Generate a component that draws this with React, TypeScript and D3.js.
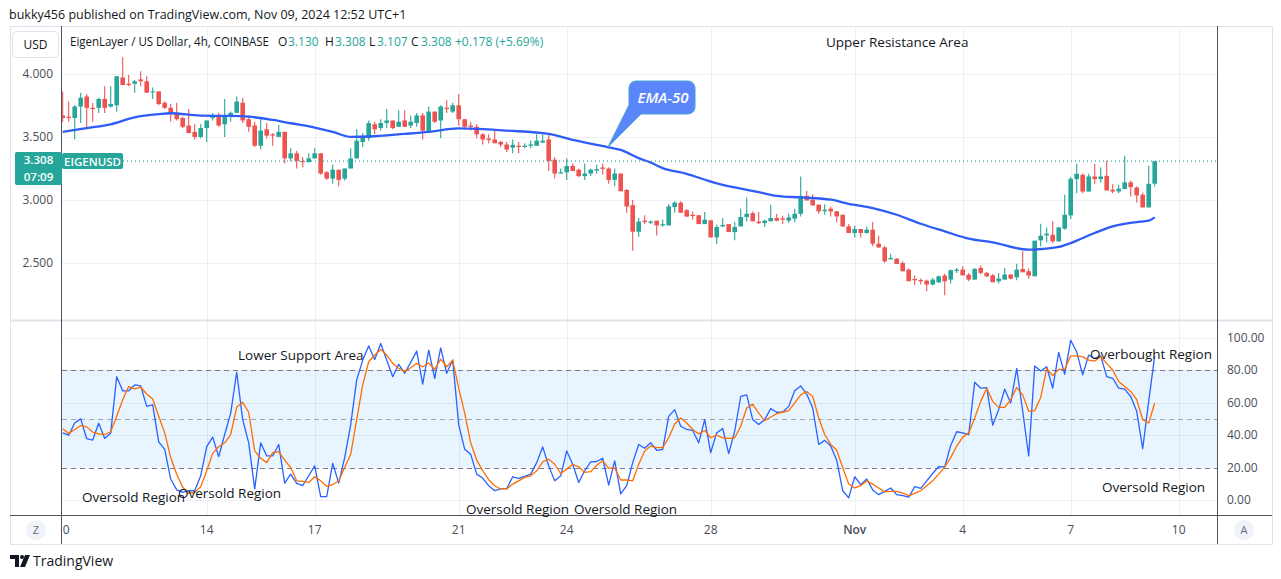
import React from "react";
import * as d3 from "d3";

const publishedText = "bukky456 published on TradingView.com, Nov 09, 2024 12:52 UTC+1";
const symbolTitle = "EigenLayer / US Dollar, 4h, COINBASE";
const ohlcLabels: [string, string, number, number][] = [
  ["O", "3.130", 278, 288],
  ["H", "3.308", 325, 335],
  ["L", "3.107", 369, 377],
  ["C", "3.308", 411, 421],
];
const changeLabel = "+0.178 (+5.69%)";
const lastPrice = 3.308;
const lastPriceText = "3.308";
const countdownText = "07:09";
const tickerText = "EIGENUSD";

const priceTicks = [4.0, 3.5, 3.0, 2.5];
const stochGridTicks = [100, 80, 60, 40, 20, 0];
const bandLevels = [80, 50, 20];
const dateTicks: [number, number, string][] = [
  [9, 10, "10"], [9, 14, "14"], [9, 17, "17"], [9, 21, "21"], [9, 24, "24"],
  [9, 28, "28"], [10, 1, "Nov"], [10, 4, "4"], [10, 7, "7"], [10, 10, "10"],
];

// 4h candles from Oct 10 2024: [open, high, low, close]
const candles: [number, number, number, number][] = [
  [3.67, 3.86, 3.62, 3.65], [3.66, 3.78, 3.62, 3.65], [3.65, 3.75, 3.48, 3.74], [3.74, 3.85, 3.61, 3.81], [3.82, 3.84, 3.56, 3.73],
  [3.73, 3.77, 3.62, 3.72], [3.73, 3.81, 3.69, 3.8], [3.8, 3.9, 3.69, 3.73], [3.74, 3.9, 3.73, 3.76], [3.75, 3.98, 3.7, 3.98],
  [3.97, 4.13, 3.91, 3.91], [3.92, 3.99, 3.9, 3.91], [3.92, 3.95, 3.85, 3.94], [3.955, 4.02, 3.9, 3.94], [3.94, 3.98, 3.85, 3.85],
  [3.855, 3.89, 3.8, 3.86], [3.86, 3.86, 3.75, 3.76], [3.77, 3.78, 3.72, 3.73], [3.73, 3.76, 3.62, 3.68], [3.69, 3.77, 3.63, 3.64],
  [3.65, 3.66, 3.57, 3.58], [3.59, 3.72, 3.53, 3.53], [3.54, 3.6, 3.48, 3.5], [3.5, 3.6, 3.49, 3.57], [3.57, 3.63, 3.46, 3.63],
  [3.65, 3.69, 3.63, 3.67], [3.67, 3.69, 3.58, 3.59], [3.6, 3.8, 3.5, 3.67], [3.67, 3.7, 3.62, 3.69], [3.69, 3.82, 3.69, 3.78],
  [3.77, 3.81, 3.61, 3.63], [3.64, 3.67, 3.54, 3.58], [3.59, 3.62, 3.42, 3.43], [3.43, 3.66, 3.4, 3.55], [3.56, 3.61, 3.49, 3.51],
  [3.52, 3.53, 3.43, 3.51], [3.5, 3.595, 3.5, 3.54], [3.54, 3.54, 3.29, 3.33], [3.33, 3.41, 3.31, 3.37], [3.37, 3.39, 3.25, 3.31],
  [3.31, 3.34, 3.26, 3.3], [3.3, 3.37, 3.3, 3.33], [3.33, 3.41, 3.33, 3.37], [3.37, 3.37, 3.2, 3.21], [3.22, 3.23, 3.16, 3.17],
  [3.17, 3.28, 3.13, 3.24], [3.24, 3.24, 3.11, 3.16], [3.17, 3.25, 3.155, 3.25], [3.25, 3.41, 3.25, 3.33], [3.33, 3.56, 3.33, 3.47],
  [3.46, 3.53, 3.42, 3.5], [3.49, 3.63, 3.47, 3.61], [3.6, 3.62, 3.52, 3.56], [3.57, 3.64, 3.55, 3.61], [3.61, 3.72, 3.57, 3.63],
  [3.63, 3.63, 3.56, 3.57], [3.58, 3.71, 3.58, 3.62], [3.63, 3.71, 3.58, 3.58], [3.59, 3.67, 3.57, 3.62], [3.61, 3.69, 3.58, 3.67],
  [3.67, 3.69, 3.48, 3.55], [3.54, 3.74, 3.54, 3.7], [3.7, 3.7, 3.61, 3.62], [3.63, 3.75, 3.49, 3.74], [3.73, 3.79, 3.69, 3.72],
  [3.7, 3.77, 3.69, 3.75], [3.75, 3.84, 3.59, 3.64], [3.64, 3.64, 3.56, 3.58], [3.59, 3.62, 3.55, 3.58], [3.58, 3.6, 3.49, 3.52],
  [3.52, 3.53, 3.44, 3.48], [3.487, 3.52, 3.45, 3.476], [3.48, 3.55, 3.45, 3.45], [3.46, 3.47, 3.42, 3.44], [3.44, 3.46, 3.38, 3.4],
  [3.415, 3.48, 3.37, 3.437], [3.43, 3.46, 3.37, 3.42], [3.42, 3.45, 3.41, 3.43], [3.43, 3.47, 3.41, 3.44], [3.43, 3.52, 3.43, 3.47],
  [3.455, 3.52, 3.455, 3.47], [3.48, 3.53, 3.23, 3.31], [3.32, 3.34, 3.17, 3.21], [3.21, 3.25, 3.21, 3.22], [3.22, 3.33, 3.16, 3.27],
  [3.27, 3.29, 3.23, 3.23], [3.24, 3.25, 3.18, 3.19], [3.19, 3.29, 3.16, 3.21], [3.21, 3.25, 3.19, 3.24], [3.234, 3.28, 3.21, 3.245],
  [3.258, 3.29, 3.2, 3.247], [3.25, 3.26, 3.13, 3.16], [3.16, 3.25, 3.11, 3.21], [3.21, 3.21, 3.07, 3.07], [3.08, 3.087, 2.9, 2.95],
  [2.96, 3.0, 2.6, 2.75], [2.75, 2.86, 2.71, 2.83], [2.837, 2.88, 2.81, 2.826], [2.82, 2.84, 2.81, 2.83], [2.837, 2.837, 2.72, 2.8],
  [2.8, 2.845, 2.79, 2.81], [2.8, 2.97, 2.8, 2.95], [2.945, 2.99, 2.9, 2.98], [2.98, 2.99, 2.9, 2.9], [2.92, 2.93, 2.866, 2.87],
  [2.884, 2.91, 2.845, 2.874], [2.88, 2.884, 2.81, 2.81], [2.81, 2.905, 2.81, 2.845], [2.84, 2.84, 2.705, 2.705], [2.705, 2.805, 2.653, 2.787],
  [2.792, 2.858, 2.787, 2.803], [2.81, 2.81, 2.747, 2.747], [2.747, 2.826, 2.682, 2.787], [2.792, 2.932, 2.792, 2.866], [2.866, 3.02, 2.832, 2.892],
  [2.897, 2.91, 2.832, 2.832], [2.829, 2.905, 2.81, 2.818], [2.818, 2.845, 2.787, 2.837], [2.832, 2.963, 2.832, 2.858], [2.858, 2.89, 2.832, 2.837],
  [2.855, 2.876, 2.81, 2.845], [2.837, 2.892, 2.818, 2.863], [2.853, 2.932, 2.824, 2.892], [2.892, 3.187, 2.871, 3.034], [3.034, 3.074, 2.997, 2.997],
  [3.003, 3.047, 2.958, 2.958], [2.963, 2.968, 2.892, 2.911], [2.913, 2.968, 2.884, 2.924], [2.932, 2.95, 2.871, 2.911], [2.911, 2.911, 2.824, 2.871],
  [2.884, 2.884, 2.787, 2.792], [2.792, 2.81, 2.74, 2.74], [2.74, 2.797, 2.705, 2.771], [2.771, 2.771, 2.705, 2.74], [2.74, 2.792, 2.734, 2.766],
  [2.766, 2.826, 2.634, 2.655], [2.655, 2.718, 2.621, 2.626], [2.626, 2.634, 2.503, 2.516], [2.532, 2.576, 2.53, 2.542], [2.537, 2.537, 2.495, 2.495],
  [2.503, 2.516, 2.437, 2.437], [2.45, 2.458, 2.358, 2.358], [2.376, 2.403, 2.326, 2.366], [2.368, 2.379, 2.332, 2.358], [2.363, 2.371, 2.279, 2.332],
  [2.332, 2.384, 2.326, 2.371], [2.35, 2.403, 2.345, 2.397], [2.403, 2.418, 2.247, 2.358], [2.371, 2.45, 2.34, 2.445], [2.44, 2.463, 2.424, 2.45],
  [2.45, 2.476, 2.403, 2.405], [2.41, 2.424, 2.358, 2.371], [2.371, 2.463, 2.371, 2.455], [2.463, 2.482, 2.411, 2.424], [2.424, 2.432, 2.392, 2.397],
  [2.405, 2.416, 2.35, 2.35], [2.358, 2.424, 2.34, 2.379], [2.371, 2.463, 2.371, 2.411], [2.411, 2.416, 2.371, 2.379], [2.389, 2.497, 2.366, 2.45],
  [2.455, 2.595, 2.429, 2.429], [2.437, 2.458, 2.379, 2.403], [2.397, 2.679, 2.397, 2.679], [2.682, 2.813, 2.634, 2.718], [2.721, 2.784, 2.666, 2.734],
  [2.726, 2.832, 2.661, 2.674], [2.674, 2.79, 2.67, 2.784], [2.774, 3.042, 2.766, 2.884], [2.879, 3.182, 2.85, 3.168], [3.166, 3.287, 3.055, 3.208],
  [3.2, 3.213, 3.055, 3.068], [3.068, 3.208, 3.068, 3.187], [3.187, 3.287, 3.129, 3.166], [3.166, 3.258, 3.14, 3.187], [3.192, 3.311, 3.076, 3.076],
  [3.082, 3.126, 3.055, 3.068], [3.068, 3.121, 3.055, 3.09], [3.087, 3.35, 3.087, 3.14], [3.14, 3.153, 3.029, 3.103], [3.1, 3.108, 2.982, 3.037],
  [3.042, 3.061, 2.942, 2.942], [2.942, 3.271, 2.942, 3.129], [3.13, 3.308, 3.107, 3.308],
];

// EMA-50 at these bar indexes
const emaBar = [0, 4, 8, 12, 16, 18, 23, 28, 31, 35, 38, 42, 45, 48, 51, 57, 61, 66, 68, 74, 81, 85, 91, 93, 96, 98, 100, 104, 108, 112, 116, 119, 123, 128, 131, 135, 139, 143, 147, 151, 155, 161, 163, 166, 168, 172, 175, 179, 181, 182];
const emaValue = [3.54, 3.57, 3.6, 3.655, 3.68, 3.687, 3.668, 3.666, 3.66, 3.634, 3.608, 3.574, 3.54, 3.5, 3.503, 3.524, 3.54, 3.568, 3.566, 3.55, 3.524, 3.476, 3.418, 3.397, 3.332, 3.297, 3.253, 3.208, 3.147, 3.1, 3.063, 3.034, 3.021, 3.003, 2.971, 2.937, 2.884, 2.813, 2.753, 2.695, 2.666, 2.608, 2.613, 2.629, 2.66, 2.74, 2.792, 2.826, 2.837, 2.863];

// Stochastic %K (blue) and %D (orange)
const stochK = [
  41.3, 39.9, 47.4, 49.9, 37.7, 36.9, 47.2, 37.9, 41.2, 75.9,
  67.2, 67.2, 70.8, 70.2, 57.6, 58.6, 35.8, 31.2, 12.9, 6.2,
  4.7, 5.7, 5.7, 14.9, 32.8, 38.7, 26.7, 40.3, 53.5, 78.6,
  49.5, 35.2, 6.8, 35.2, 27.1, 27.1, 34.2, 10.4, 15.9, 10.2,
  8.8, 14.9, 21.0, 2.1, 2.1, 22.6, 10.4, 26.1, 46.4, 73.9,
  86.1, 94.8, 86.5, 96.3, 86.1, 75.9, 83.5, 78.0, 84.7, 91.6,
  71.3, 92.2, 74.9, 93.6, 78.0, 86.1, 46.4, 31.2, 28.1, 15.9,
  13.5, 8.8, 5.7, 6.8, 7.0, 14.3, 13.3, 14.5, 15.9, 23.0,
  32.6, 21.0, 11.8, 14.9, 30.2, 22.0, 10.8, 18.0, 23.5, 23.7,
  25.7, 9.2, 24.1, 3.7, 8.8, 23.0, 34.2, 31.8, 35.2, 30.6,
  31.2, 51.5, 55.6, 45.4, 43.4, 42.8, 35.2, 49.5, 29.2, 41.3,
  44.0, 28.5, 42.4, 63.7, 64.7, 49.5, 46.4, 49.5, 56.2, 54.0,
  54.0, 57.6, 67.2, 70.2, 65.2, 56.6, 34.2, 36.7, 33.2, 24.5,
  5.7, 1.3, 14.3, 9.4, 12.9, 6.2, 3.3, 5.3, 7.4, 3.3,
  2.7, 1.7, 8.2, 7.2, 11.8, 16.3, 20.6, 20.4, 33.6, 42.0,
  41.3, 40.3, 72.5, 68.8, 69.2, 46.0, 55.6, 68.2, 59.7, 81.0,
  54.6, 27.1, 82.4, 79.4, 82.0, 68.8, 90.8, 77.4, 98.3, 91.2,
  77.0, 89.2, 87.1, 88.7, 75.9, 74.9, 68.8, 68.2, 63.7, 54.6,
  31.6, 60.7, 88.7,
];
const stochD = [
  43.8, 41.0, 43.4, 45.8, 45.0, 41.8, 40.7, 40.3, 42.0, 51.5,
  61.7, 69.8, 68.4, 69.4, 65.2, 62.1, 51.5, 41.3, 26.1, 15.9,
  7.8, 4.1, 4.7, 8.2, 18.0, 28.7, 32.8, 35.2, 40.3, 57.2,
  60.1, 54.0, 30.2, 25.7, 23.0, 29.2, 29.8, 24.5, 20.0, 11.8,
  11.4, 10.8, 14.3, 11.8, 8.4, 9.4, 11.8, 20.0, 28.1, 49.5,
  70.8, 85.1, 89.2, 92.6, 89.2, 84.1, 81.0, 79.0, 81.4, 84.1,
  82.0, 84.3, 80.4, 86.7, 82.0, 86.1, 68.8, 53.5, 35.2, 24.5,
  18.0, 12.5, 8.8, 6.8, 6.8, 9.8, 11.8, 13.9, 14.9, 18.0,
  23.5, 25.1, 22.0, 16.3, 19.0, 22.0, 20.4, 17.0, 17.4, 21.4,
  24.1, 19.6, 19.6, 12.3, 12.3, 11.8, 22.0, 30.2, 33.2, 32.2,
  32.2, 38.3, 46.8, 50.5, 47.4, 43.4, 40.7, 42.8, 38.3, 39.9,
  38.3, 37.9, 38.3, 45.4, 56.6, 59.0, 53.5, 48.9, 50.9, 53.2,
  54.0, 55.0, 59.7, 64.7, 66.8, 63.7, 50.5, 40.3, 34.2, 30.6,
  20.0, 9.8, 7.4, 8.8, 11.8, 9.8, 7.4, 5.0, 5.3, 5.3,
  4.3, 2.7, 4.1, 5.7, 8.8, 11.8, 15.9, 20.4, 26.1, 33.2,
  38.7, 41.3, 50.5, 60.7, 68.8, 60.7, 57.0, 57.0, 61.7, 69.2,
  64.7, 54.6, 55.0, 63.1, 81.0, 76.5, 80.4, 80.4, 88.7, 88.7,
  88.1, 86.1, 85.5, 88.1, 84.1, 80.0, 72.9, 69.8, 66.8, 61.7,
  49.5, 47.4, 59.7,
];

const annotations: [string, number, number][] = [
  ["Upper Resistance Area", 826, 47],
  ["Lower Support Area", 238, 360],
  ["Overbought Region", 1090, 359],
  ["Oversold Region", 82, 502],
  ["Oversold Region", 178, 498],
  ["Oversold Region", 466, 514],
  ["Oversold Region", 574, 514],
  ["Oversold Region", 1102, 492],
];

const UP = "#26a69a";
const DOWN = "#ef5350";
const GRID = "#edf0f5";
const TXT = "#131722";
const FONT = "'Trebuchet MS', 'Open Sans', Roboto, sans-serif";

export default function App() {
  const L = 62, R = 1217;
  const mainTop = 27, mainBot = 320, stTop = 321, stBot = 515, axBot = 544;
  const t0 = Date.UTC(2024, 9, 10);
  const x = d3.scaleUtc().domain([new Date(t0), new Date(Date.UTC(2024, 10, 10))]).range([62.7, 1178.7]);
  const bx = (i: number) => x(new Date(t0 + i * 4 * 3600 * 1000));
  const yP = d3.scaleLinear().domain([2.5, 4.0]).range([263.3, 73.7]);
  const yS = d3.scaleLinear().domain([0, 100]).range([500, 337.5]);

  const emaPath = d3.line<number>().x((_, k) => bx(emaBar[k])).y((v) => yP(v)).curve(d3.curveMonotoneX)(emaValue) || "";
  const kPath = d3.line<number>().x((_, i) => bx(i)).y((v) => yS(v))(stochK) || "";
  const dPath = d3.line<number>().x((_, i) => bx(i)).y((v) => yS(v))(stochD) || "";
  const bodyW = 4.6;
  const lastY = yP(lastPrice);

  return (
    <svg width={1281} height={579} style={{ position: "fixed", left: 0, top: 0, background: "#fff" }} fontFamily={FONT}>
      <defs>
        <clipPath id="mainClip"><rect x={L} y={mainTop} width={R - L} height={mainBot - mainTop} /></clipPath>
        <clipPath id="stClip"><rect x={L} y={stTop} width={R - L} height={stBot - stTop} /></clipPath>
        <clipPath id="axClip"><rect x={L + 0.5} y={stBot} width={R - L} height={axBot - stBot} /></clipPath>
      </defs>
      <rect x={0} y={0} width={1281} height={579} fill="#fff" />
      <text x={9} y={19} fontSize={12.5} fill={TXT}>{publishedText}</text>

      {/* outer frame */}
      <rect x={10.5} y={26.5} width={1262} height={518} fill="none" stroke="#e0e3eb" />

      {/* grid */}
      {dateTicks.map(([m, d], k) => {
        const xx = Math.round(x(new Date(Date.UTC(2024, m, d)))) + 0.5;
        return k === 0 ? null : (
          <g key={"vg" + k}>
            <line x1={xx} x2={xx} y1={mainTop} y2={mainBot} stroke={GRID} />
            <line x1={xx} x2={xx} y1={stTop} y2={stBot} stroke={GRID} />
          </g>
        );
      })}
      {priceTicks.map((p) => (
        <line key={"pg" + p} x1={L} x2={R} y1={Math.round(yP(p)) + 0.5} y2={Math.round(yP(p)) + 0.5} stroke={GRID} />
      ))}
      {stochGridTicks.map((v) => (
        <line key={"sg" + v} x1={L} x2={R} y1={Math.round(yS(v)) + 0.5} y2={Math.round(yS(v)) + 0.5} stroke={GRID} />
      ))}

      {/* stochastic band */}
      <rect x={L} y={yS(80)} width={R - L} height={yS(20) - yS(80)} fill="rgba(33,150,243,0.1)" />
      {bandLevels.map((v) => (
        <line key={"bl" + v} x1={L} x2={R} y1={Math.round(yS(v)) + 0.5} y2={Math.round(yS(v)) + 0.5}
          stroke={v === 50 ? "#a3a6af" : "#787b86"} strokeDasharray="5,4" />
      ))}

      {/* candles */}
      <g clipPath="url(#mainClip)">
        {candles.map(([o, h, l, c], i) => {
          const cx = bx(i);
          const col = c >= o ? UP : DOWN;
          const top = yP(Math.max(o, c));
          const bot = yP(Math.min(o, c));
          return (
            <g key={"c" + i}>
              <line x1={cx} x2={cx} y1={yP(h)} y2={yP(l)} stroke={col} strokeWidth={1.1} />
              <rect x={cx - bodyW / 2} y={top} width={bodyW} height={Math.max(1, bot - top)} fill={col} />
            </g>
          );
        })}
        <path d={emaPath} fill="none" stroke="#2f5cf6" strokeWidth={2.3} />
        <line x1={123} x2={R} y1={lastY} y2={lastY} stroke={UP} strokeDasharray="1,3" strokeWidth={1.2} />
      </g>

      {/* stochastic lines */}
      <g clipPath="url(#stClip)">
        <path d={kPath} fill="none" stroke="#2962ff" strokeWidth={1.3} strokeLinejoin="round" />
        <path d={dPath} fill="none" stroke="#ff6d00" strokeWidth={1.3} strokeLinejoin="round" />
      </g>

      {/* pane separators and axes */}
      <line x1={10} x2={1272} y1={320.5} y2={320.5} stroke="#e0e3eb" strokeWidth={2} />
      <line x1={10} x2={1272} y1={515.5} y2={515.5} stroke="#50535e" />
      <line x1={61.5} x2={61.5} y1={26} y2={544} stroke="#50535e" />
      <line x1={1217.5} x2={1217.5} y1={26} y2={544} stroke="#50535e" />

      {/* left price axis */}
      {priceTicks.map((p) => (
        <text key={"pt" + p} x={53} y={yP(p) + 4} fontSize={12} fill="#4a4e59" textAnchor="end">{p.toFixed(3)}</text>
      ))}
      {/* right stochastic axis */}
      {stochGridTicks.map((v) => (
        <text key={"st" + v} x={1227} y={yS(v) + 4} fontSize={12} fill="#4a4e59">{v.toFixed(2)}</text>
      ))}

      {/* time axis */}
      <g clipPath="url(#axClip)">
        {dateTicks.map(([m, d, lab], k) => (
          <text key={"dt" + k} x={x(new Date(Date.UTC(2024, m, d)))} y={534} fontSize={12} fill="#4a4e59"
            textAnchor="middle" fontWeight={lab === "Nov" ? 600 : 400}>{lab}</text>
        ))}
      </g>
      <circle cx={36} cy={530} r={10} fill="#f0f3fa" />
      <text x={36} y={534} fontSize={11} fill="#6a6d78" textAnchor="middle">Z</text>
      <circle cx={1244} cy={530} r={10} fill="#f0f3fa" />
      <text x={1244} y={534} fontSize={11} fill="#6a6d78" textAnchor="middle">A</text>

      {/* header */}
      <rect x={12.5} y={31.5} width={46} height={26} rx={4} fill="#fff" stroke="#e0e3eb" />
      <text x={35.5} y={49} fontSize={12} fill={TXT} textAnchor="middle">USD</text>
      <text x={70} y={46} fontSize={12} fill={TXT} textLength={199} lengthAdjust="spacingAndGlyphs">{symbolTitle}</text>
      {ohlcLabels.map(([k, v, xk, xv]) => (
        <g key={"ohlc" + k}>
          <text x={xk} y={46} fontSize={12} fill={TXT}>{k}</text>
          <text x={xv} y={46} fontSize={12} fill={UP}>{v}</text>
        </g>
      ))}
      <text x={455} y={46} fontSize={12} fill={UP}>{changeLabel}</text>

      {/* last price label */}
      <rect x={15} y={152} width={47} height={33} rx={2} fill={UP} />
      <text x={38.5} y={164} fontSize={11.5} fill="#fff" textAnchor="middle" fontWeight={600}>{lastPriceText}</text>
      <text x={38.5} y={180.5} fontSize={11.5} fill="#fff" textAnchor="middle" fontWeight={600}>{countdownText}</text>
      <rect x={62} y={153} width={61} height={16} rx={2} fill={UP} />
      <text x={92.5} y={165.5} fontSize={11.5} fill="#fff" textAnchor="middle" fontWeight={600}>{tickerText}</text>

      {/* annotations */}
      {annotations.map(([t, ax, ay], k) => (
        <text key={"an" + k} x={ax} y={ay} fontSize={13.5} fill={TXT}>{t}</text>
      ))}

      {/* EMA-50 callout */}
      <path d="M636,81 H688 A7,7 0 0 1 695,88 V107 A7,7 0 0 1 688,114 H641 L608,147 L629,105 V88 A7,7 0 0 1 636,81 Z"
        fill="#5b85fb" stroke="#47a2d6" strokeWidth={1} />
      <text x={663} y={103} fontSize={15} fill="#fff" fontStyle="italic" fontWeight={600} textAnchor="middle">EMA-50</text>

      {/* TradingView logo */}
      <path d="M10,555 H19 V567 H15 V559 H10 Z" fill={TXT} />
      <circle cx={22} cy={557} r={2} fill={TXT} />
      <path d="M25,555 H30 L25,567 H20 Z" fill={TXT} />
      <text x={33} y={566} fontSize={14} fill={TXT}>TradingView</text>
    </svg>
  );
}
